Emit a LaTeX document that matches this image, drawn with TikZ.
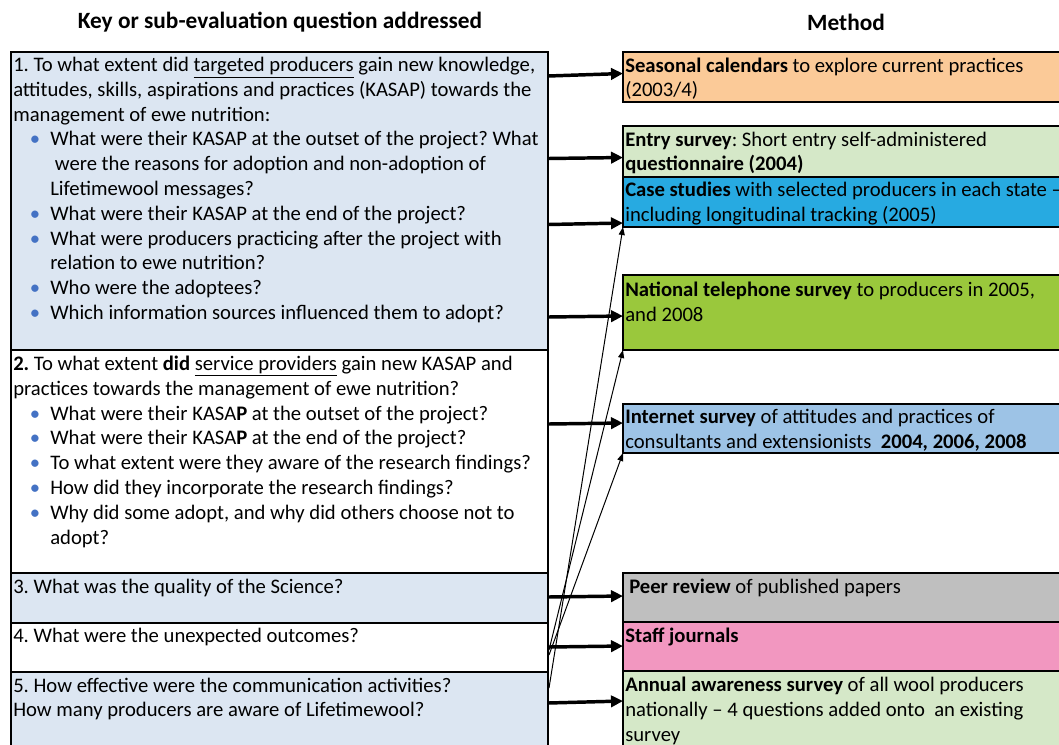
\documentclass[tikz,border=0pt]{standalone}
\usepackage{fontspec}
\setmainfont{Carlito}
\usetikzlibrary{arrows.meta,calc,fit}
\definecolor{qblue}{HTML}{DCE6F2}
\definecolor{morange}{HTML}{FBCA98}
\definecolor{mlgreen}{HTML}{D5E8C8}
\definecolor{mcyan}{HTML}{27AAE1}
\definecolor{mgreen}{HTML}{9AC83C}
\definecolor{mblue}{HTML}{9DC3E6}
\definecolor{mgrey}{HTML}{BFBFBF}
\definecolor{mpink}{HTML}{F297C0}
\definecolor{bulc}{HTML}{4472C4}
\newcommand{\bl}{\makebox[27.75pt][l]{\hspace{12.5pt}\textcolor{bulc}{•}}}
\newcommand{\ind}{\hspace*{27.75pt}}
\begin{document}
\begin{tikzpicture}[x=0.75pt,y=-0.75pt,
  box/.style={draw=black, line width=1.5pt, inner sep=0pt, outer sep=0pt},
  txt/.style={anchor=base west, inner sep=0pt, align=left, font=\fontsize{15.5}{18.6}\selectfont\frenchspacing},
  hdr/.style={inner sep=0pt, font=\bfseries\fontsize{17.5}{21}\selectfont},
  big/.style={-{Triangle[length=9pt,width=8.5pt]}, line width=2.6pt},
  thinarrow/.style={-{Triangle[length=6pt,width=4.5pt]}, line width=0.75pt}]
\clip (0,0) rectangle (1059,744);
% headers
\node[hdr] (h1) at (280,22) {Key or sub-evaluation question addressed};
\node[hdr] (h2) at (846,22) {Method};
% left boxes
\node[box, fill=qblue, fit={(11,52) (548,350)}] (q1) {};
\node[box, fill=white, fit={(11,350) (548,573)}] (q2) {};
\node[box, fill=qblue, fit={(11,573) (548,623)}] (q3) {};
\node[box, fill=white, fit={(11,623) (548,672)}] (q4) {};
\node[box, fill=qblue, fit={(11,672) (548,770)}] (q5) {};
% right boxes
\node[box, fill=morange, fit={(623,52) (1070,102)}] (m1) {};
\node[box, fill=mlgreen, fit={(623,126) (1070,177)}] (m2) {};
\node[box, fill=mcyan, fit={(623,177) (1070,227)}] (m3) {};
\node[box, fill=mgreen, fit={(623,275) (1070,350)}] (m4) {};
\node[box, fill=mblue, fit={(623,404) (1070,453)}] (m5) {};
\node[box, fill=mgrey, fit={(623,573) (1070,622)}] (m6) {};
\node[box, fill=mpink, fit={(623,622) (1070,671)}] (m7) {};
\node[box, fill=mlgreen, fit={(623,671) (1070,770)}] (m8) {};
% left texts (anchored at the baseline of their last line)
\node[txt] (q1t) at (13,319.5) {1. To what extent did \underline{targeted producers} gain new knowledge,\\
attitudes, skills, aspirations and practices (KASAP) towards the\\
management of ewe nutrition:\\
\bl What were their KASAP at the outset of the project? What\\
\ind\ were the reasons for adoption and non-adoption of\\
\ind Lifetimewool messages?\\
\bl What were their KASAP at the end of the project?\\
\bl What were producers practicing after the project with\\
\ind relation to ewe nutrition?\\
\bl Who were the adoptees?\\
\bl Which information sources influenced them to adopt?};
\node[txt] (q2t) at (13,544.1) {\textbf{2.} To what extent \textbf{did} \underline{service providers} gain new KASAP and\\
practices towards the management of ewe nutrition?\\
\bl What were their KASA\textbf{P} at the outset of the project?\\
\bl What were their KASA\textbf{P} at the end of the project?\\
\bl To what extent were they aware of the research findings?\\
\bl How did they incorporate the research findings?\\
\bl Why did some adopt, and why did others choose not to\\
\ind adopt?};
\node[txt] (q3t) at (13,593) {3. What was the quality of the Science?};
\node[txt] (q4t) at (13,642) {4. What were the unexpected outcomes?};
\node[txt] (q5t) at (13,716.8) {5. How effective were the communication activities?\\
How many producers are aware of Lifetimewool?};
% right texts
\node[txt] (m1t) at (625,96.8) {\textbf{Seasonal calendars} to explore current practices\\(2003/4)};
\node[txt] (m2t) at (625,170.8) {\textbf{Entry survey}: Short entry self-administered\\\textbf{questionnaire (2004)}};
\node[txt] (m3t) at (625,221.3) {\textbf{Case studies} with selected producers in each state --\\including longitudinal tracking (2005)};
\node[txt] (m4t) at (625,321.3) {\textbf{National telephone survey} to producers in 2005,\\and 2008};
\node[txt] (m5t) at (625,448.3) {\textbf{Internet survey} of attitudes and practices of\\consultants and extensionists\ \ \textbf{2004, 2006, 2008}};
\node[txt] (m6t) at (629,593) {\textbf{Peer review} of published papers};
\node[txt] (m7t) at (625,642) {\textbf{Staff journals}};
\node[txt] (m8t) at (625,741.1) {\textbf{Annual awareness survey} of all wool producers\\nationally -- 4 questions added onto\ \ an existing\\survey};
% thick arrows
\draw[big] ($(q1.north east)+(0,24)$) -- ($(m1.north west)+(0,21.5)$);
\draw[big] ($(q1.north east)+(0,106.5)$) -- ($(m2.north west)+(0,31.5)$);
\draw[big] ($(q1.north east)+(0,172.5)$) -- ($(m3.north west)+(0,46)$);
\draw[big] ($(q1.north east)+(0,265)$) -- ($(m4.north west)+(0,41)$);
\draw[big] ($(q2.north east)+(0,74)$) -- ($(m5.north west)+(0,19)$);
\draw[big] ($(q3.north east)+(0,24)$) -- ($(m6.north west)+(0,23)$);
\draw[big] ($(q4.north east)+(0,24)$) -- ($(m7.north west)+(0,24)$);
\draw[big] ($(q5.north east)+(0,31)$) -- ($(m8.north west)+(0,30)$);
% thin arrows
\coordinate (s1) at ($(q5.north east)+(1,16)$);
\coordinate (s2) at ($(q4.north east)+(1,27)$);
\coordinate (s3) at ($(q4.north east)+(1,32)$);
\draw[thinarrow] (s1) -- (m3.south west);
\draw[thinarrow] (s2) -- (m4.south west);
\draw[thinarrow] (s3) -- (m5.south west);
\end{tikzpicture}
\end{document}
